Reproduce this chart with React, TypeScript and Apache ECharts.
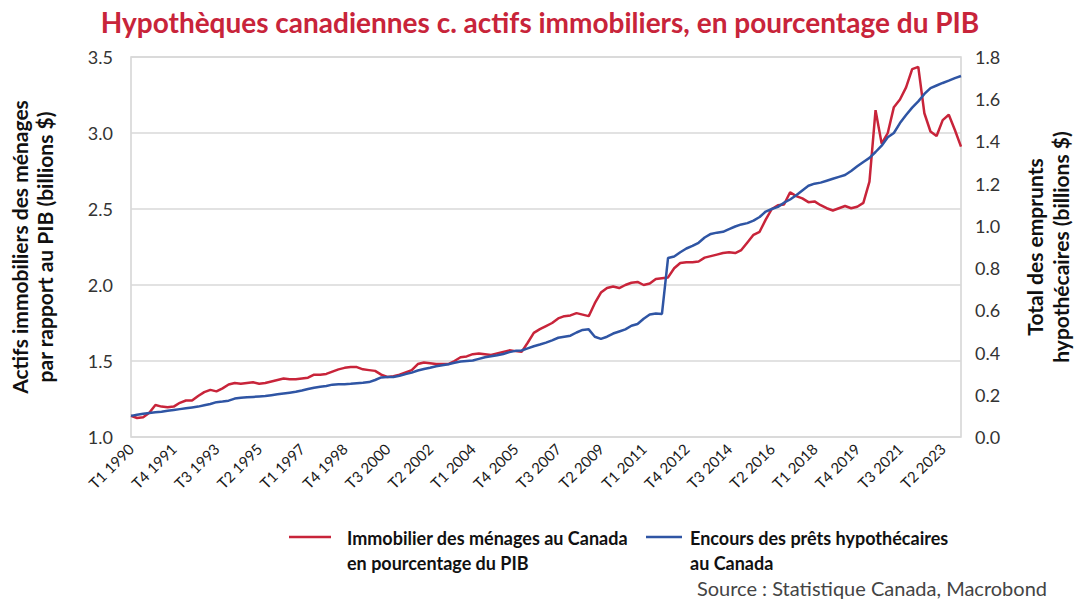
import React, { useEffect, useRef } from "react";
import * as echarts from "echarts";

const START_YEAR = 1990;
const N_QUARTERS = 137;
const categories: string[] = [];
for (let i = 0; i < N_QUARTERS; i++) {
  categories.push(`T${(i % 4) + 1} ${START_YEAR + Math.floor(i / 4)}`);
}

const realEstateToGdp = [
  1.14, 1.125, 1.13, 1.16, 1.21, 1.2, 1.195, 1.2, 1.225, 1.24,
  1.24, 1.27, 1.295, 1.31, 1.3, 1.32, 1.345, 1.355, 1.35, 1.355,
  1.36, 1.35, 1.355, 1.365, 1.375, 1.385, 1.38, 1.38, 1.385, 1.39,
  1.41, 1.41, 1.415, 1.43, 1.445, 1.455, 1.46, 1.46, 1.445, 1.44,
  1.435, 1.41, 1.395, 1.4, 1.41, 1.425, 1.44, 1.48, 1.49, 1.485,
  1.48, 1.48, 1.48, 1.5, 1.525, 1.53, 1.545, 1.55, 1.545, 1.54,
  1.55, 1.56, 1.57, 1.565, 1.56, 1.62, 1.685, 1.71, 1.73, 1.75,
  1.78, 1.795, 1.8, 1.815, 1.805, 1.795, 1.88, 1.95, 1.98, 1.99,
  1.98, 2.0, 2.015, 2.02, 2.0, 2.01, 2.04, 2.045, 2.05, 2.11,
  2.145, 2.15, 2.15, 2.155, 2.18, 2.19, 2.2, 2.21, 2.215, 2.21,
  2.23, 2.28, 2.33, 2.35, 2.43, 2.5, 2.525, 2.53, 2.61, 2.585,
  2.57, 2.545, 2.55, 2.525, 2.505, 2.49, 2.505, 2.52, 2.505, 2.515,
  2.54, 2.68, 3.15, 2.93, 3.0, 3.17, 3.22, 3.3, 3.42, 3.435,
  3.13, 3.01, 2.98, 3.085, 3.12, 3.02, 2.91,
];

const mortgageOutstanding = [
  0.1, 0.105, 0.11, 0.114, 0.117, 0.12, 0.124, 0.128, 0.132, 0.136,
  0.14, 0.144, 0.15, 0.156, 0.165, 0.168, 0.172, 0.182, 0.186, 0.188,
  0.19, 0.192, 0.194, 0.198, 0.202, 0.206, 0.21, 0.214, 0.22, 0.227,
  0.233, 0.238, 0.242, 0.248, 0.25, 0.25, 0.252, 0.255, 0.257, 0.26,
  0.27, 0.282, 0.284, 0.284, 0.29, 0.298, 0.305, 0.315, 0.322, 0.328,
  0.335, 0.34, 0.345, 0.352, 0.358, 0.36, 0.362, 0.37, 0.378, 0.382,
  0.387, 0.393, 0.402, 0.408, 0.41, 0.42, 0.43, 0.438, 0.447, 0.458,
  0.47, 0.475, 0.48, 0.495, 0.507, 0.51, 0.475, 0.465, 0.475, 0.49,
  0.5, 0.51, 0.527, 0.535, 0.56, 0.58, 0.585, 0.583, 0.848, 0.855,
  0.875, 0.893, 0.905, 0.92, 0.945, 0.962, 0.968, 0.972, 0.985, 0.997,
  1.007, 1.013, 1.025, 1.042, 1.068, 1.08, 1.09, 1.11, 1.125, 1.145,
  1.168, 1.19, 1.2, 1.205, 1.214, 1.223, 1.232, 1.241, 1.26, 1.282,
  1.303, 1.322, 1.35, 1.38, 1.42, 1.44, 1.487, 1.525, 1.56, 1.59,
  1.625, 1.653, 1.665, 1.677, 1.688, 1.7, 1.71,
];

const RED = "#C8243A";
const BLUE = "#2F55A4";
const SERIES_RED = "Immobilier des ménages au Canada\nen pourcentage du PIB";
const SERIES_BLUE = "Encours des prêts hypothécaires\nau Canada";

export default function App() {
  const ref = useRef<HTMLDivElement>(null);
  useEffect(() => {
    if (!ref.current) return;
    const chart = echarts.init(ref.current, null, { renderer: "svg" });
    const font = "Lato, 'Open Sans', sans-serif";
    chart.setOption({
      animation: false,
      backgroundColor: "#ffffff",
      title: {
        text: "Hypothèques canadiennes c. actifs immobiliers, en pourcentage du PIB",
        left: "center",
        top: 3,
        textStyle: { color: RED, fontSize: 28, fontWeight: "bold", fontFamily: font },
      },
      grid: {
        left: 131,
        right: 119,
        top: 57,
        bottom: 164,
        show: true,
        borderColor: "#d4d4d4",
        borderWidth: 1.5,
        containLabel: false,
        outerBoundsMode: "none",
      },
      xAxis: {
        type: "category",
        data: categories,
        boundaryGap: false,
        axisLine: { show: false },
        axisTick: { show: false },
        axisLabel: {
          interval: 6,
          rotate: 45,
          fontSize: 15,
          color: "#1a1a1a",
          fontFamily: font,
          margin: 9,
        },
        splitLine: { show: false },
      },
      yAxis: [
        {
          type: "value",
          min: 1,
          max: 3.5,
          interval: 0.5,
          position: "left",
          name: "Actifs immobiliers des ménages\npar rapport au PIB (billions $)",
          nameLocation: "middle",
          nameRotate: 90,
          nameGap: 74,
          nameTextStyle: { fontSize: 21, fontWeight: "bold", color: "#111", fontFamily: font, lineHeight: 25 },
          axisLine: { show: false },
          axisTick: { show: false },
          axisLabel: {
            fontSize: 18,
            color: "#333",
            fontFamily: font,
            margin: 18,
            formatter: (v: number) => v.toFixed(1),
          },
          splitLine: { show: true, lineStyle: { color: "#d9d9d9", width: 1.5 } },
        },
        {
          type: "value",
          min: 0,
          max: 1.8,
          interval: 0.2,
          position: "right",
          name: "Total des emprunts\nhypothécaires (billions $)",
          nameLocation: "middle",
          nameRotate: 90,
          nameGap: 60,
          nameTextStyle: { fontSize: 21, fontWeight: "bold", color: "#111", fontFamily: font, lineHeight: 26 },
          axisLine: { show: false },
          axisTick: { show: false },
          axisLabel: {
            fontSize: 18,
            color: "#333",
            fontFamily: font,
            margin: 14,
            formatter: (v: number) => v.toFixed(1),
          },
          splitLine: { show: false },
        },
      ],
      series: [
        {
          name: SERIES_RED,
          type: "line",
          yAxisIndex: 0,
          data: realEstateToGdp,
          showSymbol: false,
          lineStyle: { color: RED, width: 2.5 },
          itemStyle: { color: RED },
          z: 3,
        },
        {
          name: SERIES_BLUE,
          type: "line",
          yAxisIndex: 1,
          data: mortgageOutstanding,
          showSymbol: false,
          lineStyle: { color: BLUE, width: 2.5 },
          itemStyle: { color: BLUE },
          z: 4,
        },
      ],
      graphic: [
        { type: "line", shape: { x1: 289, y1: 537, x2: 331, y2: 537 }, style: { stroke: RED, lineWidth: 2.5 } },
        {
          type: "text",
          left: 347,
          top: 525,
          style: { text: SERIES_RED, font: `bold 18px ${font}`, fill: "#111", lineHeight: 25 },
        },
        { type: "line", shape: { x1: 646, y1: 537, x2: 682, y2: 537 }, style: { stroke: BLUE, lineWidth: 2.5 } },
        {
          type: "text",
          left: 690,
          top: 525,
          style: { text: SERIES_BLUE, font: `bold 18px ${font}`, fill: "#111", lineHeight: 25 },
        },
        {
          type: "text",
          right: 33,
          top: 578,
          style: { text: "Source : Statistique Canada, Macrobond", font: `20px ${font}`, fill: "#444" },
        },
      ],
    });
    return () => chart.dispose();
  }, []);
  return (
    <div
      ref={ref}
      style={{ position: "fixed", left: 0, top: 0, width: 1080, height: 601 }}
    />
  );
}
